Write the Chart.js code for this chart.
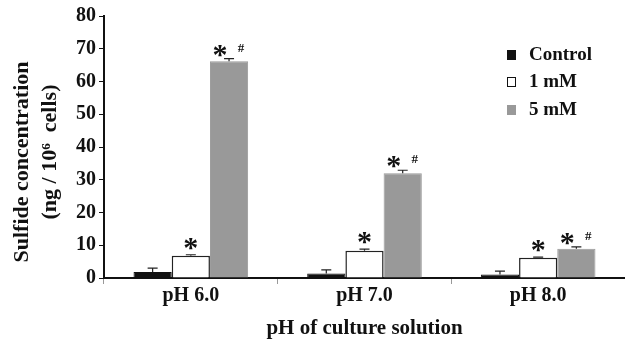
<!DOCTYPE html>
<html>
<head>
<meta charset="utf-8">
<script src="https://cdn.jsdelivr.net/npm/chart.js@4"></script>
<style>
  html, body { margin: 0; padding: 0; background: #fff; }
  #wrap { width: 625px; height: 341px; }
</style>
</head>
<body>
<div id="wrap"><canvas id="myChart"></canvas></div>
<script>
const categories = ['pH 6.0', 'pH 7.0', 'pH 8.0'];
const controlValues = [1.8, 1.4, 1.1];
const controlErrors = [1.2, 1.1, 1.0];
const mM1Values = [6.8, 8.3, 6.2];
const mM1Errors = [0.3, 0.5, 0.2];
const mM5Values = [66.2, 32.0, 8.9];
const mM5Errors = [0.8, 0.9, 0.6];
const mM1Marks = ['*', '*', '*'];
const mM5Marks = ['*', '*', '*'];
const mM5Hash = ['#', '#', '#'];
const yTicks = [0, 10, 20, 30, 40, 50, 60, 70, 80];
const yTitle = ['Sulfide concentration', '(ng / 10\u2076  cells)'];

const serif = '"Liberation Serif", "Times New Roman", serif';

const errorsByDataset = [controlErrors, mM1Errors, mM5Errors];

// draw text with its ink box centred on (x, y)
function centerText(c, txt, x, y) {
  const m = c.measureText(txt);
  const asc = m.actualBoundingBoxAscent, desc = m.actualBoundingBoxDescent;
  c.fillText(txt, x, y + (asc - desc) / 2);
}

const extrasPlugin = {
  id: 'extras',
  afterDatasetsDraw(chart) {
    const c = chart.ctx;
    const y = chart.scales.y;
    c.save();
    // error bars (upper only)
    chart.data.datasets.forEach((ds, di) => {
      const meta = chart.getDatasetMeta(di);
      meta.data.forEach((bar, i) => {
        const top = y.getPixelForValue(ds.data[i] + errorsByDataset[di][i]);
        c.strokeStyle = '#222';
        c.lineWidth = 1.2;
        c.beginPath();
        c.moveTo(bar.x, bar.y);
        c.lineTo(bar.x, top);
        c.moveTo(bar.x - 5, top);
        c.lineTo(bar.x + 5, top);
        c.stroke();
      });
    });
    // significance marks
    c.fillStyle = '#111';
    c.textAlign = 'center';
    c.textBaseline = 'alphabetic';
    const m1 = chart.getDatasetMeta(1);
    const m5 = chart.getDatasetMeta(2);
    m1.data.forEach((bar, i) => {
      const top = y.getPixelForValue(mM1Values[i] + mM1Errors[i]);
      c.font = 'bold 30px ' + serif;
      centerText(c, mM1Marks[i], bar.x, top - 11);
    });
    m5.data.forEach((bar, i) => {
      const top = y.getPixelForValue(mM5Values[i] + mM5Errors[i]);
      c.font = 'bold 30px ' + serif;
      centerText(c, mM5Marks[i], bar.x - 9, top - 8);
      c.font = 'bold 13px ' + serif;
      centerText(c, mM5Hash[i], bar.x + 12, top - 11);
    });
    // legend
    const lx = 507, ly = [55, 82, 110];
    chart.data.datasets.forEach((ds, di) => {
      c.fillStyle = ds.backgroundColor;
      c.fillRect(lx, ly[di] - 5, 9, 10);
      c.strokeStyle = '#111';
      c.lineWidth = 1;
      if (di === 1) c.strokeRect(lx + 0.5, ly[di] - 4.5, 8, 9);
      c.fillStyle = '#111';
      c.font = 'bold 19px ' + serif;
      c.textAlign = 'left';
      c.textBaseline = 'middle';
      c.fillText(ds.label, lx + 22, ly[di]);
    });
    // y axis title, two rotated lines
    c.font = 'bold 22px ' + serif;
    c.textAlign = 'center';
    c.textBaseline = 'middle';
    c.fillStyle = '#111';
    [[22, 162], [50, 152]].forEach((p, k) => {
      c.save();
      c.translate(p[0], p[1]);
      c.rotate(-Math.PI / 2);
      c.fillText(yTitle[k], 0, 0);
      c.restore();
    });
    c.restore();
  }
};

new Chart(document.getElementById('myChart'), {
  type: 'bar',
  data: {
    labels: categories,
    datasets: [
      { label: 'Control', data: controlValues, backgroundColor: '#111111', borderColor: '#111111', borderWidth: 1 },
      { label: '1 mM', data: mM1Values, backgroundColor: '#ffffff', borderColor: '#222222', borderWidth: 1.5 },
      { label: '5 mM', data: mM5Values, backgroundColor: '#999999', borderColor: '#999999', borderWidth: 1 }
    ]
  },
  options: {
    responsive: true,
    maintainAspectRatio: false,
    animation: false,
    layout: { padding: { top: 16, right: 0, bottom: 0, left: 0 } },
    plugins: { legend: { display: false }, tooltip: { enabled: false } },
    datasets: { bar: { categoryPercentage: 0.66, barPercentage: 1.0 } },
    scales: {
      x: {
        grid: { display: true, drawOnChartArea: false, offset: true, tickLength: 6, color: '#999' },
        border: { display: true, color: '#111', width: 2 },
        ticks: { color: '#111', font: { family: serif, size: 20, weight: 'bold' }, padding: 0 },
        title: { display: true, text: 'pH of culture solution', color: '#111', font: { family: serif, size: 21, weight: 'bold' }, padding: { top: 12, bottom: 0 } },
        afterFit(scale) { scale.height = 63; }
      },
      y: {
        min: 0, max: 80,
        afterBuildTicks(scale) { scale.ticks = yTicks.map(v => ({ value: v })); },
        grid: { display: true, drawOnChartArea: false, tickLength: 5, color: '#111' },
        border: { display: true, color: '#111', width: 2 },
        ticks: { color: '#111', font: { family: serif, size: 20, weight: 'bold' }, padding: 3 },
        afterFit(scale) { scale.width = 104; }
      }
    }
  },
  plugins: [extrasPlugin]
});
</script>
</body>
</html>
